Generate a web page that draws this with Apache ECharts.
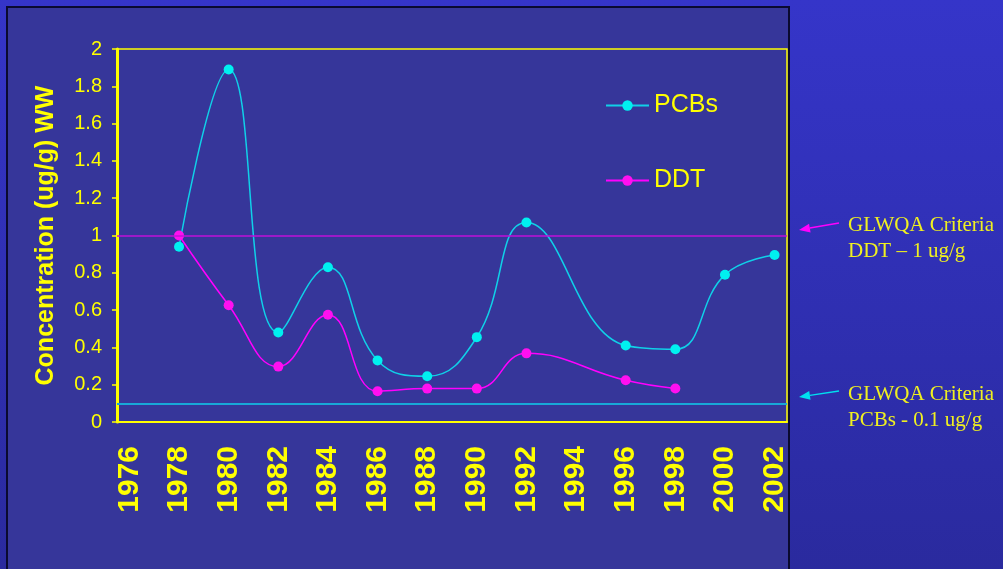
<!DOCTYPE html>
<html>
<head>
<meta charset="utf-8">
<script src="https://cdn.jsdelivr.net/npm/echarts@6/dist/echarts.min.js"></script>
<style>
  html, body { margin: 0; padding: 0; }
  #chart { width: 1003px; height: 569px; }
</style>
</head>
<body>
<div id="chart"></div>
<script>
// years on the category axis
let years = [];
for (let y = 1976; y <= 2002; y++) years.push(String(y));

// values (null = no sample that year)
let pcbs = [null, null, 0.94, null, 1.89, null, 0.48, null, 0.83, null, 0.33, null, 0.245, null,
  0.455, null, 1.07, null, null, null, 0.41, null, 0.39, null, 0.79, null, 0.895];
let ddt = [null, null, 1.0, null, 0.626, null, 0.297, null, 0.575, null, 0.165, null, 0.179, null,
  0.179, null, 0.368, null, null, null, 0.224, null, 0.18, null, null, null, null];

// GLWQA criteria
let ddtCriteria = 1;
let pcbCriteria = 0.1;

let yellow = "#ffff00";
let sans = "Liberation Sans, Arial, sans-serif";
let serif = "Liberation Serif, Times New Roman, serif";

let chart = echarts.init(document.getElementById("chart"));

function arrow(x1, y1, x2, y2, color) {
  // line from (x1,y1) to the tip (x2,y2) with a small head
  let dx = x1 - x2, dy = y1 - y2;
  let len = Math.sqrt(dx * dx + dy * dy);
  let ux = dx / len, uy = dy / len;
  let bx = x2 + ux * 11, by = y2 + uy * 11;
  return [
    { type: "line", z: 10, shape: { x1: x1, y1: y1, x2: bx, y2: by }, style: { stroke: color, lineWidth: 1.5 } },
    {
      type: "polygon", z: 10,
      shape: { points: [[x2, y2], [bx - uy * 4.5, by + ux * 4.5], [bx + uy * 4.5, by - ux * 4.5]] },
      style: { fill: color },
    },
  ];
}

let option = {
  backgroundColor: new echarts.graphic.LinearGradient(0, 0, 0, 1, [
    { offset: 0, color: "#3535c9" },
    { offset: 1, color: "#2a2a9e" },
  ]),
  animation: false,
  graphic: [
    {
      type: "rect", z: -10,
      shape: { x: 7, y: 7, width: 782, height: 580 },
      style: { fill: "#36369a", stroke: "#0a0a30", lineWidth: 2 },
    },
    ...arrow(839, 223, 799, 230, "#ff00ff"),
    ...arrow(839, 391, 799, 397, "#00e0f0"),
    {
      type: "text", z: 10, left: 848, top: 212,
      style: { text: "GLWQA Criteria\nDDT – 1 ug/g", fill: "#f0f020", font: "21px " + serif, lineHeight: 26 },
    },
    {
      type: "text", z: 10, left: 848, top: 381,
      style: { text: "GLWQA Criteria\nPCBs - 0.1 ug/g", fill: "#f0f020", font: "21px " + serif, lineHeight: 26 },
    },
  ],
  grid: {
    left: 117,
    top: 49,
    right: 216,
    bottom: 147,
    show: true,
    borderColor: yellow,
    borderWidth: 1.5,
    backgroundColor: "transparent",
  },
  legend: {
    orient: "vertical",
    left: 600,
    top: 88,
    itemWidth: 43,
    itemHeight: 13,
    itemGap: 50,
    textStyle: { color: yellow, fontSize: 25, fontFamily: sans, lineHeight: 25 },
    data: ["PCBs", "DDT"],
  },
  xAxis: {
    type: "category",
    data: years,
    boundaryGap: true,
    axisLine: { lineStyle: { color: yellow, width: 2 } },
    axisTick: { interval: 0, length: 9, lineStyle: { color: yellow, width: 1.5 } },
    axisLabel: {
      interval: 1,
      rotate: 90,
      margin: 24,
      color: yellow,
      fontSize: 30,
      fontWeight: "bold",
      fontFamily: sans,
    },
    splitLine: { show: false },
  },
  yAxis: {
    type: "value",
    min: 0,
    max: 2,
    interval: 0.2,
    name: "Concentration (ug/g) WW",
    nameLocation: "middle",
    nameRotate: 90,
    nameGap: 58,
    nameTextStyle: { color: yellow, fontSize: 25, fontWeight: "bold", fontFamily: sans },
    axisLine: { show: true, lineStyle: { color: yellow, width: 3 } },
    axisTick: { show: true, length: 5, lineStyle: { color: yellow, width: 1.5 } },
    axisLabel: { color: yellow, fontSize: 20, fontFamily: sans, margin: 15 },
    splitLine: { show: false },
  },
  series: [
    {
      name: "PCBs",
      type: "line",
      data: pcbs,
      connectNulls: true,
      smooth: 0.45,
      symbol: "circle",
      symbolSize: 10,
      itemStyle: { color: "#00f0f0" },
      lineStyle: { color: "#10d0e8", width: 1.5 },
      markLine: {
        silent: true,
        symbol: "none",
        label: { show: false },
        lineStyle: { color: "#18a8d8", width: 2, type: "solid" },
        data: [{ yAxis: pcbCriteria }],
      },
      z: 3,
    },
    {
      name: "DDT",
      type: "line",
      data: ddt,
      connectNulls: true,
      smooth: 0.45,
      symbol: "circle",
      symbolSize: 10,
      itemStyle: { color: "#ff10f0" },
      lineStyle: { color: "#ff00ff", width: 1.5 },
      markLine: {
        silent: true,
        symbol: "none",
        label: { show: false },
        lineStyle: { color: "#c010d8", width: 1.5, type: "solid" },
        data: [{ yAxis: ddtCriteria }],
      },
      z: 4,
    },
  ],
};

chart.setOption(option);
</script>
</body>
</html>
